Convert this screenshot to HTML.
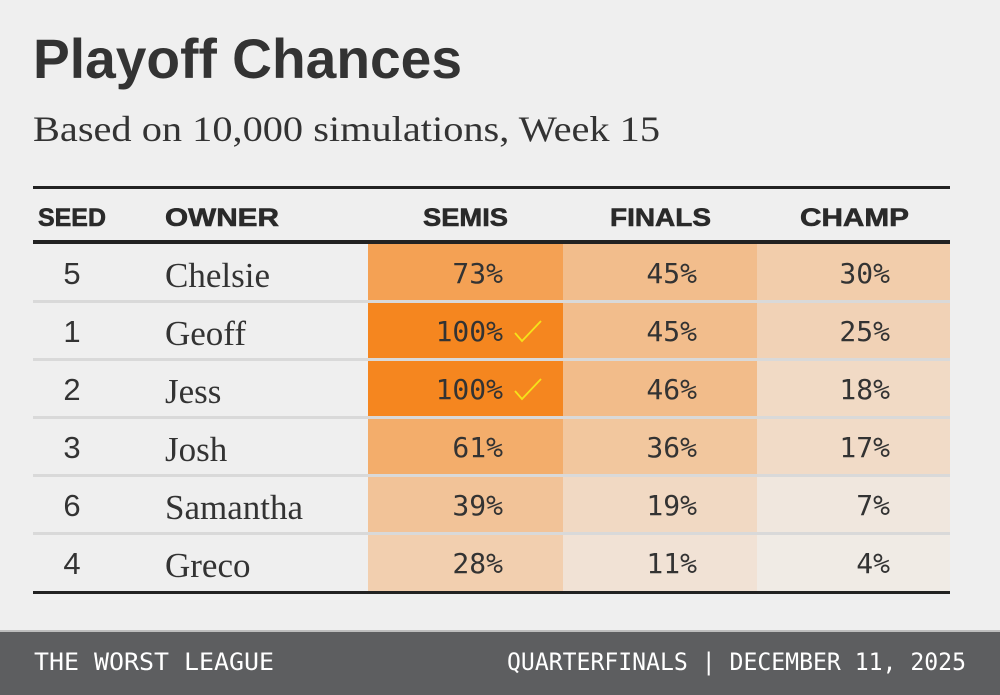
<!DOCTYPE html>
<html><head><meta charset="utf-8"><style>
html,body{margin:0;padding:0;background:#efefef;}
svg{display:block;}
</style></head><body>
<svg id="chart" width="1000" height="695" viewBox="0 0 1000 695" xmlns="http://www.w3.org/2000/svg">
<rect width="1000" height="695" fill="#efefef"/>
<text x="33" y="78" font-family="Liberation Sans, sans-serif" font-weight="bold" font-size="56" fill="#333" textLength="429" lengthAdjust="spacingAndGlyphs">Playoff Chances</text>
<text x="33" y="141" font-family="Liberation Serif, serif" font-size="36" fill="#333" textLength="627" lengthAdjust="spacingAndGlyphs">Based on 10,000 simulations, Week 15</text>
<rect x="33" y="186" width="917" height="3" fill="#222"/>
<g font-family="Liberation Sans, sans-serif" font-weight="bold" font-size="25" fill="#2a2a2a" stroke="#2a2a2a" stroke-width="0.6">
<text x="38" y="226" textLength="68" lengthAdjust="spacingAndGlyphs">SEED</text>
<text x="165" y="226" textLength="114" lengthAdjust="spacingAndGlyphs">OWNER</text>
<text x="423" y="226" textLength="85" lengthAdjust="spacingAndGlyphs">SEMIS</text>
<text x="610" y="226" textLength="101" lengthAdjust="spacingAndGlyphs">FINALS</text>
<text x="800" y="226" textLength="109" lengthAdjust="spacingAndGlyphs">CHAMP</text>
</g>
<g id="rows"></g>
<rect x="33" y="240" width="917" height="4" fill="#222"/>
<rect x="33" y="591" width="917" height="3" fill="#222"/>
<rect x="0" y="631" width="1000" height="64" fill="#5d5e60"/>
<rect x="0" y="630" width="1000" height="2" fill="#bdbdbd"/>
<text x="34" y="670" font-family="DejaVu Sans Mono, monospace" font-size="24" fill="#fff" textLength="240" lengthAdjust="spacingAndGlyphs">THE WORST LEAGUE</text>
<text x="507" y="670" font-family="DejaVu Sans Mono, monospace" font-size="24" fill="#fff" textLength="459" lengthAdjust="spacingAndGlyphs">QUARTERFINALS | DECEMBER 11, 2025</text>
</svg>
<script>
const seeds=[5,1,2,3,6,4];
const owners=["Chelsie","Geoff","Jess","Josh","Samantha","Greco"];
const semis=[73,100,100,61,39,28];
const finals=[45,45,46,36,19,11];
const champ=[30,25,18,17,7,4];
const NS="http://www.w3.org/2000/svg";
const g=document.getElementById('rows');
const rowTop=244, rowH=58;
const cols=[{x:368,w:195,vals:semis,name:'semis'},{x:563,w:194,vals:finals,name:'finals'},{x:757,w:193,vals:champ,name:'champ'}];
function color(v){const t=Math.pow(v/100,0.92);const a=[240,240,240],b=[245,134,31];return 'rgb('+a.map((c,i)=>Math.round(c+(b[i]-c)*t)).join(',')+')';}
function mk(tag,attrs,txt){const e=document.createElementNS(NS,tag);for(const k in attrs)e.setAttribute(k,attrs[k]);if(txt!==undefined)e.textContent=txt;g.appendChild(e);return e;}
seeds.forEach((s,i)=>{
  const y=rowTop+i*rowH;
  cols.forEach(c=>{
    const r=mk('rect',{x:c.x,y:y,width:c.w,height:rowH,fill:color(c.vals[i])});
    
    
    const tx=c.x+c.w-60;
    const t=mk('text',{x:tx,y:y+39,'text-anchor':'end','font-family':'DejaVu Sans Mono, monospace','font-size':'28',fill:'#333'},c.vals[i]+'%');
    
    
    if(c.name==='semis'&&c.vals[i]>=100){
      const ck=mk('path',{d:'M'+(tx+12)+' '+(y+31)+' l7 8 l19 -20',fill:'none',stroke:'#f5e21a','stroke-width':'1.8'});
      
      
    }
  });
  const sd=mk('text',{x:72,y:y+40,'text-anchor':'middle','font-family':'Liberation Sans, sans-serif','font-size':'31',fill:'#333'},s);
  
  
  const on=mk('text',{x:165,y:y+43,'font-family':'Liberation Serif, serif','font-size':'35',fill:'#333'},owners[i]);
  
  
  if(i>0){
    const d=mk('rect',{x:33,y:y-2,width:917,height:3,fill:'#d9d9d9'});
    
    
  }
});
</script>
</body></html>
